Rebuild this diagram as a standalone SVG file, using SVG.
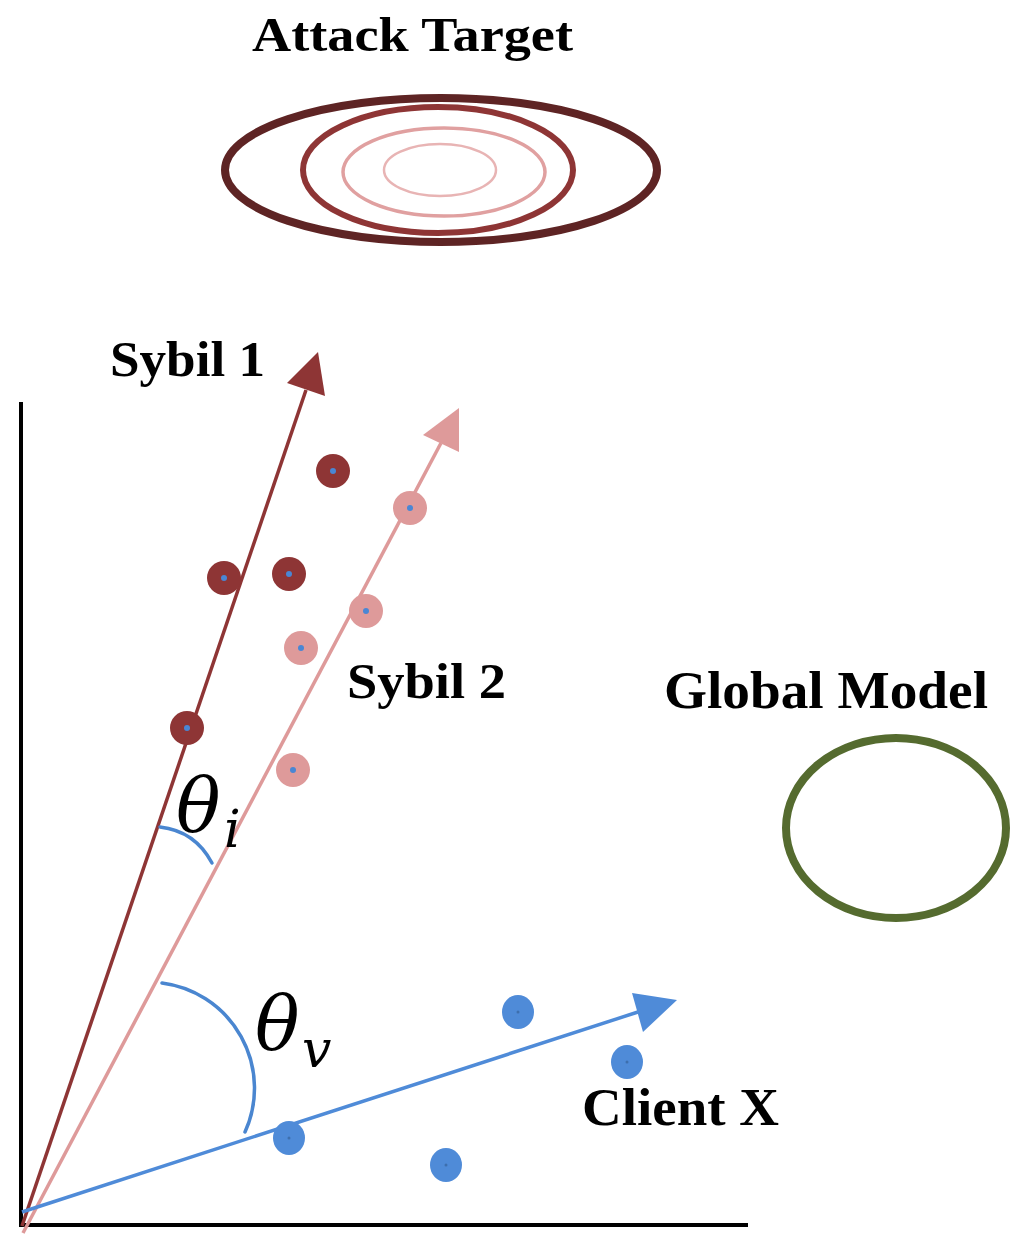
<svg xmlns="http://www.w3.org/2000/svg" width="1031" height="1244" viewBox="0 0 1031 1244">
<style>
.lbl{font-family:"Liberation Serif","Times New Roman",serif;font-weight:bold;fill:#000}
.math{font-family:"DejaVu Serif","Liberation Serif",serif;font-style:italic;fill:#000}
.ax{stroke:#000;stroke-width:4;fill:none}
.d1{fill:#8e3535}
.d2{fill:#de9a9a}
.dc{fill:#4a86d4}
.cx{fill:#4f8bd8}
.arc{fill:none;stroke:#4a86d0;stroke-width:3.5;stroke-linecap:round}
</style>
<rect width="1031" height="1244" fill="#fff"/>

<g id="attack-target">
  <ellipse cx="441" cy="170" rx="216" ry="72" fill="none" stroke="#5e2424" stroke-width="8"/>
  <ellipse cx="438" cy="170" rx="135" ry="63" fill="none" stroke="#8e3535" stroke-width="6"/>
  <ellipse cx="444" cy="172" rx="101" ry="44" fill="none" stroke="#e0a0a0" stroke-width="3.5"/>
  <ellipse cx="440" cy="170" rx="56" ry="26" fill="none" stroke="#e8b4b4" stroke-width="2.5"/>
  <text class="lbl" x="252" y="51" font-size="49" textLength="321" lengthAdjust="spacingAndGlyphs">Attack Target</text>
</g>

<g id="axes">
  <line class="ax" x1="21" y1="402" x2="21" y2="1227"/>
  <line class="ax" x1="19" y1="1225" x2="748" y2="1225"/>
</g>

<g id="connectors">
  <line x1="22" y1="1226" x2="306" y2="390" stroke="#8e3535" stroke-width="3.5"/>
  <polygon points="287,383 325,396 318,352" fill="#8e3535"/>
  <line x1="23" y1="1233" x2="441" y2="443" stroke="#de9a9a" stroke-width="3.5"/>
  <polygon points="423,435 459,452 459,408" fill="#de9a9a"/>
  <line x1="22" y1="1212" x2="638" y2="1012" stroke="#4f8bd8" stroke-width="3.5"/>
  <polygon points="632,993 677,1000 643,1032" fill="#4f8bd8"/>
</g>

<g id="sybil1">
  <circle class="d1" cx="333" cy="471" r="17"/><circle class="dc" cx="333" cy="471" r="3"/>
  <circle class="d1" cx="224" cy="578" r="17"/><circle class="dc" cx="224" cy="578" r="3"/>
  <circle class="d1" cx="289" cy="574" r="17"/><circle class="dc" cx="289" cy="574" r="3"/>
  <circle class="d1" cx="187" cy="728" r="17"/><circle class="dc" cx="187" cy="728" r="3"/>
  <text class="lbl" x="110" y="376" font-size="50" textLength="155" lengthAdjust="spacingAndGlyphs">Sybil 1</text>
</g>

<g id="sybil2">
  <circle class="d2" cx="410" cy="508" r="17"/><circle class="dc" cx="410" cy="508" r="3"/>
  <circle class="d2" cx="366" cy="611" r="17"/><circle class="dc" cx="366" cy="611" r="3"/>
  <circle class="d2" cx="301" cy="648" r="17"/><circle class="dc" cx="301" cy="648" r="3"/>
  <circle class="d2" cx="293" cy="770" r="17"/><circle class="dc" cx="293" cy="770" r="3"/>
  <text class="lbl" x="347" y="698" font-size="50" textLength="159" lengthAdjust="spacingAndGlyphs">Sybil 2</text>
</g>

<g id="client-x">
  <ellipse class="cx" cx="518" cy="1012" rx="16" ry="17"/>
  <ellipse class="cx" cx="627" cy="1062" rx="16" ry="17"/>
  <ellipse class="cx" cx="289" cy="1138" rx="16" ry="17"/>
  <ellipse class="cx" cx="446" cy="1165" rx="16" ry="17"/>
  <circle cx="518" cy="1012" r="1.5" fill="#3d6fae"/>
  <circle cx="627" cy="1062" r="1.5" fill="#3d6fae"/>
  <circle cx="289" cy="1138" r="1.5" fill="#3d6fae"/>
  <circle cx="446" cy="1165" r="1.5" fill="#3d6fae"/>
  <text class="lbl" x="582" y="1125" font-size="53" textLength="197" lengthAdjust="spacingAndGlyphs">Client X</text>
</g>

<g id="global-model">
  <ellipse cx="896" cy="828" rx="110" ry="90" fill="none" stroke="#556b2f" stroke-width="8"/>
  <text class="lbl" x="664" y="708" font-size="53" textLength="324" lengthAdjust="spacingAndGlyphs">Global Model</text>
</g>

<g id="angle-i">
  <path class="arc" d="M160,827 Q195,831 212,863"/>
  <text class="math" x="176" y="831" font-size="74">θ</text>
  <text class="math" x="224" y="847" font-size="52">i</text>
</g>

<g id="angle-v">
  <path class="arc" d="M162,983 A106,106 0 0 1 245,1132"/>
  <text class="math" x="255" y="1049" font-size="74">θ</text>
  <text class="math" x="302" y="1067" font-size="52">v</text>
</g>
</svg>
